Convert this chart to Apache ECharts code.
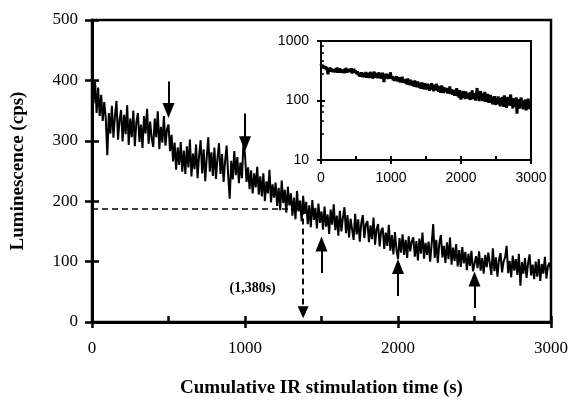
<!DOCTYPE html>
<html>
<head>
<meta charset="utf-8">
<script src="https://cdn.jsdelivr.net/npm/echarts@6/dist/echarts.min.js"></script>
<style>html,body{margin:0;padding:0;background:#fff}#c{width:571px;height:403px}</style>
</head>
<body>
<div id="c"></div>
<script>
// time step of the trace (s)
const timeStep = 10;
// luminescence (cps), every 10 s, 0..3000 s
const luminescence = [
  408,362,398,346,388,341,376,333,364,337,
  276,346,312,358,305,341,366,302,334,351,
  299,343,311,359,293,337,306,350,291,331,
  346,298,327,288,341,312,353,295,332,304,
  290,337,306,349,286,323,297,341,292,319,
  327,283,310,266,297,252,289,260,298,249,
  284,245,291,256,302,241,279,253,294,238,
  276,301,246,286,233,273,306,249,281,242,
  289,237,271,296,245,278,232,267,292,243,
  204,267,236,283,243,273,230,264,238,297,
  277,232,256,220,251,213,246,223,257,211,
  241,208,246,200,233,213,252,198,228,206,
  231,192,222,185,234,197,219,181,224,193,
  213,176,206,170,217,183,201,167,209,179,
  199,162,193,157,202,169,189,155,196,164,
  183,153,191,158,178,146,186,161,195,152,
  176,143,184,150,173,190,147,177,140,171,
  168,136,179,145,170,133,164,177,139,162,
  167,132,160,137,173,128,154,162,125,151,
  156,121,148,126,161,118,144,112,149,120,
  104,139,115,145,111,136,106,142,117,133,
  140,108,134,102,138,113,148,105,131,111,
  133,100,129,162,106,136,98,130,144,107,
  126,98,132,104,140,95,123,101,129,92,
  119,91,124,97,116,86,113,93,118,84,
  82,109,89,117,85,106,80,111,91,115,
  98,78,122,84,107,75,103,114,82,100,
  107,126,81,101,74,110,85,104,78,113,
  60,99,80,106,73,97,112,77,95,71,
  100,75,104,68,96,80,108,72,93,98,
  84
];
// axis ticks
const xTicks = [0, 1000, 2000, 3000];
const yTicks = [0, 100, 200, 300, 400, 500];
const insetYTicks = [10, 100, 1000];
// arrows: [time, from, to]
const downArrows = [[500, 398, 350], [1000, 345, 295]];
const upArrows = [[1500, 81, 129], [2000, 43, 92], [2500, 23, 71]];
// half-intensity marker
const halfTime = 1380;
const halfLevel = 188;
const halfLabel = '(1,380s)';
const xTitle = 'Cumulative IR stimulation time (s)';
const yTitle = 'Luminescence (cps)';

const pts = luminescence.map((v, i) => [i * timeStep, v]);
const serif = 'Liberation Serif';
const sans = 'Liberation Sans';
const fmt = v => String(v);

const chart = echarts.init(document.getElementById('c'), null, {renderer: 'canvas'});

function mainX(extra) {
  return Object.assign({
    gridIndex: 0, type: 'value', min: xTicks[0], max: xTicks[xTicks.length - 1],
    position: 'bottom', splitLine: {show: false},
    axisLine: {show: true, onZero: false, lineStyle: {color: '#000', width: 3}},
  }, extra);
}
function mainY(extra) {
  return Object.assign({
    gridIndex: 0, type: 'value', min: yTicks[0], max: yTicks[yTicks.length - 1],
    interval: 100, position: 'left', splitLine: {show: false},
    axisLine: {show: true, onZero: false, lineStyle: {color: '#000', width: 3}},
  }, extra);
}

const option = {
  backgroundColor: '#fff',
  animation: false,
  grid: [
    {left: 92, right: 19, top: 20, bottom: 79, show: true, borderColor: '#000', borderWidth: 2.5},
    {left: 321, right: 40, top: 41, bottom: 243, show: true, borderColor: '#000', borderWidth: 2, backgroundColor: '#fff'}
  ],
  xAxis: [
    mainX({interval: 1000,
      axisTick: {show: true, inside: false, length: 6, lineStyle: {color: '#000', width: 2.5}},
      axisLabel: {show: true, formatter: fmt, color: '#000', fontFamily: serif, fontSize: 17, margin: 18},
      name: xTitle, nameLocation: 'middle', nameGap: 57,
      nameTextStyle: {fontFamily: serif, fontWeight: 'bold', fontSize: 19, color: '#000'}}),
    mainX({interval: 500, axisLine: {show: false, onZero: false},
      axisTick: {show: true, inside: true, length: 6, lineStyle: {color: '#000', width: 2.5}},
      axisLabel: {show: false}}),
    {gridIndex: 1, type: 'value', min: 0, max: 3000, interval: 1000, position: 'bottom',
      splitLine: {show: false},
      axisLine: {show: true, onZero: false, lineStyle: {color: '#000', width: 2}},
      axisTick: {show: true, inside: false, length: 4, lineStyle: {color: '#000', width: 2}},
      axisLabel: {show: true, formatter: fmt, color: '#000', fontFamily: sans, fontSize: 14, margin: 11}},
    {gridIndex: 1, type: 'value', min: 0, max: 3000, interval: 500, position: 'bottom',
      splitLine: {show: false}, axisLine: {show: false, onZero: false},
      axisTick: {show: true, inside: true, length: 4, lineStyle: {color: '#000', width: 2}},
      axisLabel: {show: false}}
  ],
  yAxis: [
    mainY({
      axisTick: {show: true, inside: false, length: 7, lineStyle: {color: '#000', width: 2.5}},
      axisLabel: {show: true, formatter: fmt, color: '#000', fontFamily: serif, fontSize: 17, margin: 14},
      name: yTitle, nameLocation: 'middle', nameGap: 64,
      nameTextStyle: {fontFamily: serif, fontWeight: 'bold', fontSize: 19, color: '#000'}}),
    mainY({axisLine: {show: false, onZero: false},
      axisTick: {show: true, inside: true, length: 7, lineStyle: {color: '#000', width: 2.5}},
      axisLabel: {show: false}}),
    {gridIndex: 1, type: 'log', logBase: 10, min: insetYTicks[0], max: insetYTicks[insetYTicks.length - 1],
      position: 'left', splitLine: {show: false},
      axisLine: {show: true, onZero: false, lineStyle: {color: '#000', width: 2}},
      axisTick: {show: true, inside: false, length: 4, lineStyle: {color: '#000', width: 2}},
      axisLabel: {show: true, formatter: fmt, color: '#000', fontFamily: sans, fontSize: 14, margin: 12}},
    {gridIndex: 1, type: 'log', logBase: 10, min: insetYTicks[0], max: insetYTicks[insetYTicks.length - 1],
      position: 'left', splitLine: {show: false}, axisLine: {show: false, onZero: false},
      axisTick: {show: true, inside: true, length: 4, lineStyle: {color: '#000', width: 2}},
      minorTick: {show: true, splitNumber: 5, length: 3, lineStyle: {color: '#000', width: 1.5}},
      axisLabel: {show: false}}
  ],
  series: [
    {
      type: 'line', xAxisIndex: 0, yAxisIndex: 0, data: pts, showSymbol: false,
      lineStyle: {color: '#000', width: 2}, silent: true,
      markLine: {
        silent: true, symbol: ['none', 'triangle'], symbolSize: [0, 12],
        label: {show: false},
        data: [
          ...downArrows.map(a => [
            {coord: [a[0], a[1]], symbol: 'none', lineStyle: {color: '#000', width: 2, type: 'solid'}},
            {coord: [a[0], a[2]], symbol: 'triangle', symbolSize: [12, 15]}]),
          ...upArrows.map(a => [
            {coord: [a[0], a[1]], symbol: 'none', lineStyle: {color: '#000', width: 2, type: 'solid'}},
            {coord: [a[0], a[2]], symbol: 'triangle', symbolSize: [12, 15]}]),
          [{coord: [0, halfLevel], symbol: 'none', lineStyle: {color: '#000', width: 1.5, type: [6, 4]}},
           {coord: [halfTime, halfLevel], symbol: 'none'}],
          [{coord: [halfTime, halfLevel], symbol: 'none', lineStyle: {color: '#000', width: 2, type: [6, 4]}},
           {coord: [halfTime, 16], symbol: 'triangle', symbolSize: [11, 12]}]
        ]
      },
      markPoint: {
        silent: true, symbol: 'circle', symbolSize: 0,
        data: [{coord: [1050, 56], value: halfLabel,
          label: {show: true, position: 'inside', formatter: halfLabel, color: '#000',
            fontFamily: serif, fontWeight: 'bold', fontSize: 14}}]
      }
    },
    {
      type: 'line', xAxisIndex: 2, yAxisIndex: 2, data: pts, showSymbol: false,
      lineStyle: {color: '#000', width: 3}, silent: true
    }
  ]
};
chart.setOption(option);
</script>
</body>
</html>
